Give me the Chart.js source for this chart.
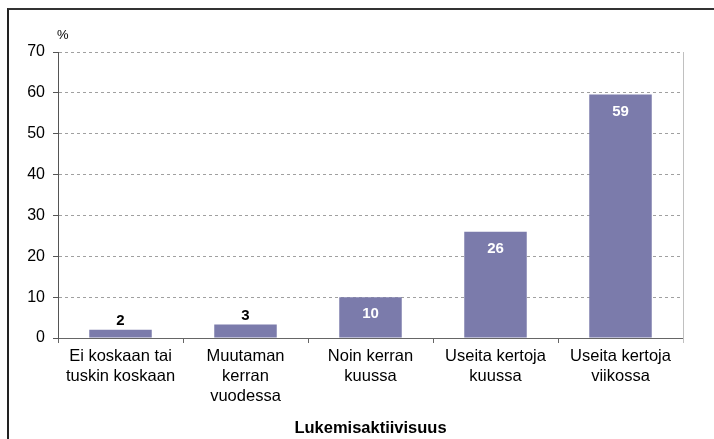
<!DOCTYPE html>
<html>
<head>
<meta charset="utf-8">
<script src="https://cdn.jsdelivr.net/npm/chart.js@4"></script>
<style>
  html, body { margin: 0; padding: 0; background: #fff; }
  #wrap { position: relative; width: 714px; height: 439px; overflow: hidden; }
  #frame { position: absolute; left: 7px; top: 8px; width: 800px; height: 500px;
           border-left: 2px solid #222; border-top: 2px solid #333; }
  canvas { position: absolute; left: 0; top: 0; }
</style>
</head>
<body>
<div id="wrap">
  <div id="frame"></div>
  <canvas id="myChart" width="714" height="439"></canvas>
</div>
<script>
let categories = [
    ['Ei koskaan tai', 'tuskin koskaan'],
    ['Muutaman', 'kerran', 'vuodessa'],
    ['Noin kerran', 'kuussa'],
    ['Useita kertoja', 'kuussa'],
    ['Useita kertoja', 'viikossa']
];
let values = [2, 3.3, 10, 26, 59.6];
let valueLabels = ['2', '3', '10', '26', '59'];
let yTicks = [0, 10, 20, 30, 40, 50, 60, 70];
let axisTitle = 'Lukemisaktiivisuus';
let unitLabel = '%';

const barLabels = {
    id: 'barLabels',
    afterDatasetsDraw(chart) {
        const ctx = chart.ctx;
        const meta = chart.getDatasetMeta(0);
        ctx.save();
        ctx.font = 'bold 15px "Liberation Sans", Arial, sans-serif';
        ctx.textAlign = 'center';
        ctx.textBaseline = 'middle';
        meta.data.forEach((bar, i) => {
            const h = bar.base - bar.y;
            if (h > 25) {
                ctx.fillStyle = '#ffffff';
                ctx.fillText(valueLabels[i], bar.x, bar.y + 17);
            } else {
                ctx.fillStyle = '#000000';
                ctx.fillText(valueLabels[i], bar.x, bar.y - 9);
            }
        });
        // unit label and right edge line
        const area = chart.chartArea;
        ctx.font = '13px "Liberation Sans", Arial, sans-serif';
        ctx.fillStyle = '#000';
        ctx.textAlign = 'left';
        ctx.fillText(unitLabel, area.left - 1, area.top - 17);
        ctx.strokeStyle = '#c0c0c0';
        ctx.lineWidth = 1;
        ctx.beginPath();
        ctx.moveTo(area.right + 0.5, area.top);
        ctx.lineTo(area.right + 0.5, area.bottom + 5);
        ctx.stroke();
        ctx.restore();
    }
};

const ctx = document.getElementById('myChart').getContext('2d');
const myChart = new Chart(ctx, {
    type: 'bar',
    data: {
        labels: categories,
        datasets: [{
            data: values,
            backgroundColor: '#7b7bab',
            barPercentage: 0.5,
            categoryPercentage: 1.0
        }]
    },
    options: {
        responsive: false,
        animation: false,
        layout: { padding: { top: 52, right: 31, left: 0, bottom: 0 } },
        plugins: {
            legend: { display: false },
            tooltip: { enabled: false }
        },
        scales: {
            x: {
                offset: true,
                grid: {
                    display: true,
                    drawOnChartArea: false,
                    offset: true,
                    tickLength: 5,
                    tickColor: '#666'
                },
                border: { color: '#666', width: 1 },
                ticks: {
                    color: '#000',
                    padding: 4,
                    maxRotation: 0,
                    autoSkip: false,
                    font: { family: '"Liberation Sans", Arial, sans-serif', size: 16.5, lineHeight: 1.2 }
                },
                title: {
                    display: true,
                    text: axisTitle,
                    color: '#000',
                    font: { family: '"Liberation Sans", Arial, sans-serif', size: 16.5, weight: 'bold' },
                    padding: { top: 0, bottom: 1 }
                },
                afterFit(scale) { scale.height = 101; }
            },
            y: {
                min: 0,
                max: 70,
                afterBuildTicks(scale) { scale.ticks = yTicks.map(v => ({ value: v })); },
                grid: {
                    color: '#a0a0a0',
                    tickLength: 5,
                    tickColor: '#555',
                    tickBorderDash: []
                },
                border: { color: '#555', width: 1, dash: [3, 3] },
                ticks: {
                    color: '#000',
                    padding: 8,
                    font: { family: '"Liberation Sans", Arial, sans-serif', size: 16 }
                },
                afterFit(scale) { scale.width = 58; }
            }
        }
    },
    plugins: [barLabels]
});
</script>
</body>
</html>
